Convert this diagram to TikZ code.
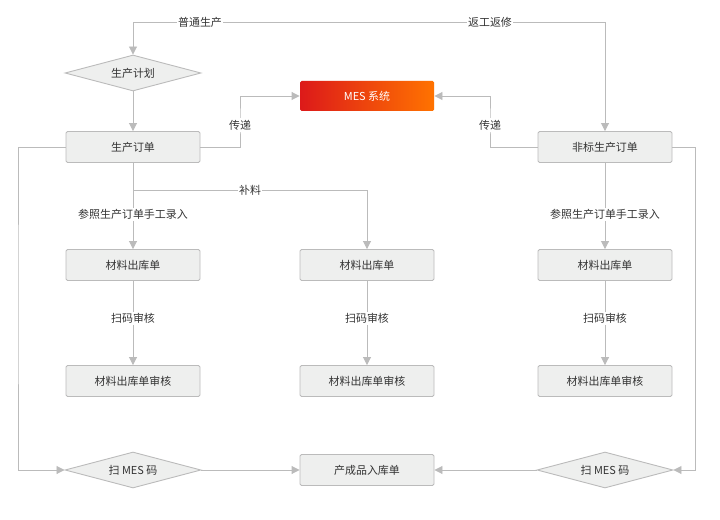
\documentclass[tikz,border=0pt]{standalone}
\usepackage{fontspec}
\newfontfamily\cjk{Noto Sans CJK SC}
\usetikzlibrary{shapes.geometric,arrows.meta,positioning}
\definecolor{linegray}{HTML}{BBBBBB}
\definecolor{boxgray}{HTML}{EEEFEE}
\definecolor{txtgray}{HTML}{333333}
\tikzset{
  box/.style={draw=linegray,line width=0.9bp,fill=boxgray,rounded corners=1.5bp,minimum width=134bp,minimum height=31bp,text=txtgray,font=\cjk\fontsize{11}{13}\selectfont},
  dia/.style={diamond,aspect=3.8,draw=linegray,line width=0.9bp,fill=boxgray,minimum width=136bp,minimum height=36bp,inner sep=0pt,text=txtgray,font=\cjk\fontsize{11}{13}\selectfont},
  flow/.style={draw=linegray,line width=0.9bp,-{Triangle[length=8bp,width=8bp]}},
  lbl/.style={fill=white,inner sep=1.5bp,text=txtgray,font=\cjk\fontsize{11}{13}\selectfont}
}
\begin{document}
\begin{tikzpicture}[x=1bp,y=-1bp]
  \useasboundingbox (0,0) rectangle (720,520);
  % nodes
  \node[dia] (plan) at (133,73) {生产计划};
  \node[box,draw=none,text=white,minimum height=30bp,left color=red!85!black!90,right color=orange!90!red] (mes) at (367,96) {MES 系统};
  \node[box] (order) at (133,147) {生产订单};
  \node[box] (nonstd) at (605,147) {非标生产订单};
  \node[box] (matA) at (133,265) {材料出库单};
  \node[box] (matB) at (367,265) {材料出库单};
  \node[box] (matC) at (605,265) {材料出库单};
  \node[box] (chkA) at (133,381) {材料出库单审核};
  \node[box] (chkB) at (367,381) {材料出库单审核};
  \node[box] (chkC) at (605,381) {材料出库单审核};
  \node[dia] (scanA) at (133,470) {扫 MES 码};
  \node[box] (store) at (367,470) {产成品入库单};
  \node[dia] (scanC) at (605,470) {扫 MES 码};
  \coordinate (split) at (133,190);
  % connectors
  \draw[flow] (400,22) -| (plan.north);
  \draw[flow] (300,22) -| (nonstd.north);
  \node[lbl] at (200,22) {普通生产};
  \node[lbl] at (490,22) {返工返修};
  \draw[flow] (plan) -- (order);
  \draw[flow] (order.east) -| (240,120) |- (mes.west);
  \draw[flow] (nonstd.west) -| (490,120) |- (mes.east);
  \node[lbl] at (240,125) {传递};
  \node[lbl] at (490,125) {传递};
  \draw[flow] (order) -- (matA) node[lbl,pos=0.6] {参照生产订单手工录入};
  \draw[flow] (split) -| (matB) node[lbl,pos=0.25] {补料};
  \draw[flow] (nonstd) -- (matC) node[lbl,pos=0.6] {参照生产订单手工录入};
  \foreach \m/\c in {matA/chkA,matB/chkB,matC/chkC}
    \draw[flow] (\m) -- (\c) node[lbl,pos=0.45] {扫码审核};
  \draw[flow] (order.west) -| (18,300) |- (scanA.west);
  \draw[flow] (nonstd.east) -| (695,300) |- (scanC.east);
  \draw[flow] (scanA) -- (store);
  \draw[flow] (scanC) -- (store);
\end{tikzpicture}
\end{document}
